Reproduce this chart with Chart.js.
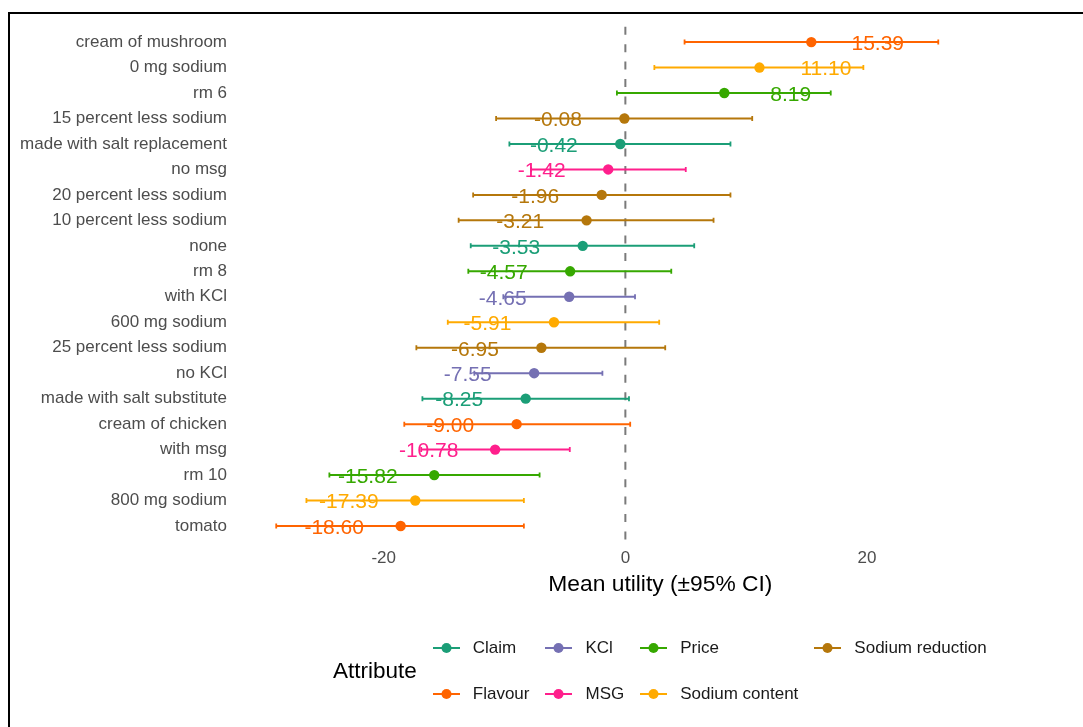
<!DOCTYPE html>
<html>
<head>
<meta charset="utf-8">
<title>Mean utility</title>
<script src="https://cdn.jsdelivr.net/npm/chart.js@4.4.1/dist/chart.umd.min.js"></script>
<style>
  body { margin: 0; background: #fff; font-family: "Liberation Sans", Arial, sans-serif; }
  #wrap { position: relative; width: 1083px; height: 727px; overflow: hidden; }
  #frame { position: absolute; left: 8px; top: 12px; width: 1200px; height: 800px; border: 2px solid #000; box-sizing: border-box; }
  #chart { position: absolute; left: 0; top: 0; }
  #legend { position: absolute; left: 333px; top: 625px; display: flex; align-items: center; }
  #legend .title { font-size: 22.5px; color: #000; margin-right: 16px; }
  #legend .items { display: grid; grid-template-rows: repeat(2, 46px); grid-auto-flow: column; column-gap: 16px; align-items: center; }
  #legend .item { display: flex; align-items: center; font-size: 17px; color: #1a1a1a; }
  #legend svg { margin-right: 13px; }
</style>
</head>
<body>
<div id="wrap">
  <div id="frame"></div>
  <canvas id="chart" width="1083" height="727"></canvas>
  <div id="legend"><span class="title">Attribute</span><div class="items" id="legendItems"></div></div>
</div>
<script>
// levels, top to bottom
const categories = [
  'cream of mushroom', '0 mg sodium', 'rm 6', '15 percent less sodium',
  'made with salt replacement', 'no msg', '20 percent less sodium',
  '10 percent less sodium', 'none', 'rm 8', 'with KCl', '600 mg sodium',
  '25 percent less sodium', 'no KCl', 'made with salt substitute',
  'cream of chicken', 'with msg', 'rm 10', '800 mg sodium', 'tomato'
];
const attributes = [
  'Flavour', 'Sodium content', 'Price', 'Sodium reduction',
  'Claim', 'MSG', 'Sodium reduction',
  'Sodium reduction', 'Claim', 'Price', 'KCl', 'Sodium content',
  'Sodium reduction', 'KCl', 'Claim',
  'Flavour', 'MSG', 'Price', 'Sodium content', 'Flavour'
];
const means = [15.39, 11.10, 8.19, -0.08, -0.42, -1.42, -1.96, -3.21, -3.53, -4.57,
  -4.65, -5.91, -6.95, -7.55, -8.25, -9.00, -10.78, -15.82, -17.39, -18.60];
const lower = [4.9, 2.4, -0.7, -10.7, -9.6, -7.8, -12.6, -13.8, -12.8, -13.0,
  -10.1, -14.7, -17.3, -12.5, -16.8, -18.3, -16.9, -24.5, -26.4, -28.9];
const upper = [25.9, 19.7, 17.0, 10.5, 8.7, 5.0, 8.7, 7.3, 5.7, 3.8,
  0.8, 2.8, 3.3, -1.9, 0.3, 0.4, -4.6, -7.1, -8.4, -8.4];
const attributeLevels = ['Claim', 'Flavour', 'KCl', 'MSG', 'Price', 'Sodium content', 'Sodium reduction'];
const xTicks = [-20, 0, 20];

const colors = {
  'Claim': '#1B9E77',
  'Flavour': '#FF6400',
  'KCl': '#7570B3',
  'MSG': '#FF1F8C',
  'Price': '#36A800',
  'Sodium content': '#FFAA00',
  'Sodium reduction': '#B5770B'
};
const labelNudge = 5.5;
const font = '"Liberation Sans", Arial, sans-serif';

// CI whiskers, one per level
const ciSets = categories.map((c, i) => ({
  label: c,
  data: [{ x: lower[i], y: i }, { x: upper[i], y: i }],
  showLine: true,
  borderColor: colors[attributes[i]],
  borderWidth: 2,
  pointStyle: 'line',
  rotation: 90,
  pointRadius: 2.5,
  pointBorderWidth: 1.8,
  pointBorderColor: colors[attributes[i]],
  order: 1
}));

// point estimates, one per attribute
const pointSets = attributeLevels.map(a => ({
  label: a,
  data: means.map((m, i) => ({ x: m, y: i })).filter((p, i) => attributes[i] === a),
  backgroundColor: colors[a],
  borderColor: colors[a],
  pointRadius: 5.2,
  pointBorderWidth: 0,
  order: 0
}));

const zeroLine = {
  id: 'zeroLine',
  beforeDatasetsDraw(chart) {
    const { ctx, chartArea, scales: { x } } = chart;
    const px = x.getPixelForValue(0);
    ctx.save();
    ctx.strokeStyle = '#7a7a7a';
    ctx.lineWidth = 2;
    ctx.setLineDash([8, 9.4]);
    ctx.beginPath();
    ctx.moveTo(px, chartArea.top);
    ctx.lineTo(px, chartArea.bottom);
    ctx.stroke();
    ctx.restore();
  }
};

const valueLabels = {
  id: 'valueLabels',
  afterDatasetsDraw(chart) {
    const { ctx, scales: { x, y } } = chart;
    ctx.save();
    ctx.font = '21px ' + font;
    ctx.textAlign = 'center';
    ctx.textBaseline = 'middle';
    means.forEach((m, i) => {
      ctx.fillStyle = colors[attributes[i]];
      const px = x.getPixelForValue(m + Math.sign(m) * labelNudge);
      ctx.fillText(m.toFixed(2), px, y.getPixelForValue(i) + 2);
    });
    ctx.restore();
  }
};

new Chart(document.getElementById('chart'), {
  type: 'scatter',
  data: { datasets: [...ciSets, ...pointSets] },
  options: {
    responsive: false,
    animation: false,
    layout: { padding: { top: 25.7, right: 5, bottom: 100, left: 0 } },
    plugins: { legend: { display: false }, tooltip: { enabled: false } },
    scales: {
      x: {
        min: -31.6,
        max: 37.4,
        grid: { display: false, drawTicks: false },
        border: { display: false },
        afterBuildTicks: s => { s.ticks = xTicks.map(v => ({ value: v })); },
        afterFit: s => { s.height = 85.7; },
        ticks: { color: '#4d4d4d', padding: 6.5, font: { family: font, size: 17 } },
        title: {
          display: true,
          text: 'Mean utility (±95% CI)',
          color: '#000',
          font: { family: font, size: 22.8 },
          padding: { top: 0, bottom: 28.8 }
        }
      },
      y: {
        min: -0.6,
        max: categories.length - 0.4,
        reverse: true,
        grid: { display: false, drawTicks: false },
        border: { display: false },
        afterBuildTicks: s => { s.ticks = categories.map((c, i) => ({ value: i })); },
        afterFit: s => { s.width = 243.6; },
        ticks: {
          color: '#4d4d4d',
          padding: 16.6,
          font: { family: font, size: 17 },
          callback: v => categories[v]
        }
      }
    }
  },
  plugins: [zeroLine, valueLabels]
});

// legend
const legendItems = document.getElementById('legendItems');
attributeLevels.forEach(a => {
  const item = document.createElement('div');
  item.className = 'item';
  item.innerHTML = '<svg width="27" height="14"><line x1="0" y1="7" x2="27" y2="7" stroke="' + colors[a] +
    '" stroke-width="2"/><circle cx="13.5" cy="7" r="5" fill="' + colors[a] + '"/></svg><span>' + a + '</span>';
  legendItems.appendChild(item);
});
</script>
</body>
</html>
